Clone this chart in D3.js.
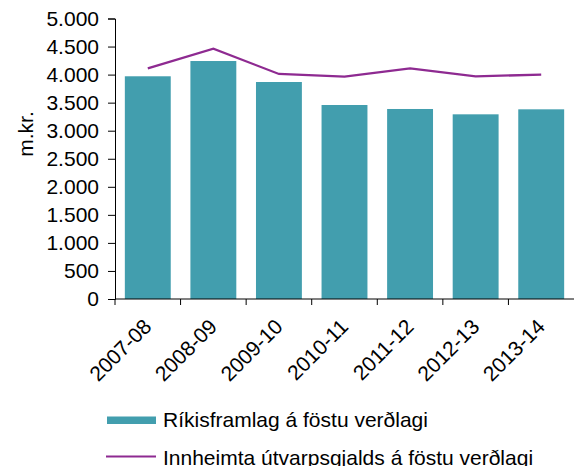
<!DOCTYPE html>
<html><head><meta charset="utf-8">
<script src="https://cdn.jsdelivr.net/npm/d3@7"></script>
<style>body{margin:0;background:#fff}svg{display:block;font-family:"Liberation Sans",Arial,sans-serif}</style>
</head><body><svg id="c" width="574" height="466"></svg>
<script>
const categories = ["2007-08","2008-09","2009-10","2010-11","2011-12","2012-13","2013-14"];
const barValues = [3970, 4242, 3868, 3458, 3387, 3292, 3381];
const lineValues = [4112, 4462, 4011, 3963, 4112, 3970, 3998];
const yTicks = [0,500,1000,1500,2000,2500,3000,3500,4000,4500,5000];
const barName = "Ríkisframlag á föstu verðlagi";
const lineName = "Innheimta útvarpsgjalds á föstu verðlagi";
const yTitle = "m.kr.";
const barColor = "#429EAE", lineColor = "#8E2A91";

const svg = d3.select("#c");
const L = 115, R = 574, T = 18.5, B = 299;
const x = d3.scaleBand().domain(categories).range([L, R]).paddingInner(0.3).paddingOuter(0.15);
const y = d3.scaleLinear().domain([0, 5000]).range([B, T]);
const fmt = v => d3.format(",")(v).replace(/,/g, ".");

// bars
svg.append("g").selectAll("rect").data(barValues).join("rect")
  .attr("x", (d,i) => x(categories[i])).attr("width", x.bandwidth())
  .attr("y", d => y(d)).attr("height", d => B - y(d))
  .attr("fill", barColor);

// line
svg.append("path").datum(lineValues)
  .attr("fill","none").attr("stroke", lineColor).attr("stroke-width", 2.3)
  .attr("d", d3.line().x((d,i) => x(categories[i]) + x.bandwidth()/2).y(d => y(d)));

// y axis
const ya = svg.append("g").attr("transform", `translate(${L},0)`)
  .call(d3.axisLeft(y).tickValues(yTicks).tickFormat(fmt).tickSize(7).tickPadding(9));
ya.selectAll("text").attr("font-size", 21).attr("fill", "#000").attr("font-family", "Liberation Sans, Arial, sans-serif");
ya.selectAll("line,path").attr("stroke", "#000");

// x axis
const step = x.step();
const xa = svg.append("g").attr("transform", `translate(0,${B})`);
xa.append("line").attr("x1", L).attr("x2", R).attr("stroke", "#000");
xa.selectAll("line.t").data(categories).join("line").attr("class","t")
  .attr("x1", (d) => x(d) - x.paddingOuter()*step).attr("x2", (d) => x(d) - x.paddingOuter()*step)
  .attr("y1", 0).attr("y2", 6).attr("stroke", "#000");
xa.selectAll("text").data(categories).join("text")
  .attr("transform", d => `translate(${x(d) + x.bandwidth()/2 + 5},${29}) rotate(-45)`)
  .attr("text-anchor", "end").attr("font-size", 21).attr("fill", "#000")
  .text(d => d);

// y title
svg.append("text").attr("transform", "translate(33,134) rotate(-90)")
  .attr("text-anchor", "middle").attr("font-size", 21).text(yTitle);

// legend
const lg = svg.append("g");
lg.append("rect").attr("x", 107).attr("y", 416.5).attr("width", 49).attr("height", 7.5).attr("fill", barColor);
lg.append("text").attr("x", 163).attr("y", 427).attr("font-size", 21).text(barName);
lg.append("line").attr("x1", 106).attr("x2", 156).attr("y1", 456.5).attr("y2", 456.5).attr("stroke", lineColor).attr("stroke-width", 2);
lg.append("text").attr("x", 163).attr("y", 465).attr("font-size", 21).text(lineName);
</script></body></html>
